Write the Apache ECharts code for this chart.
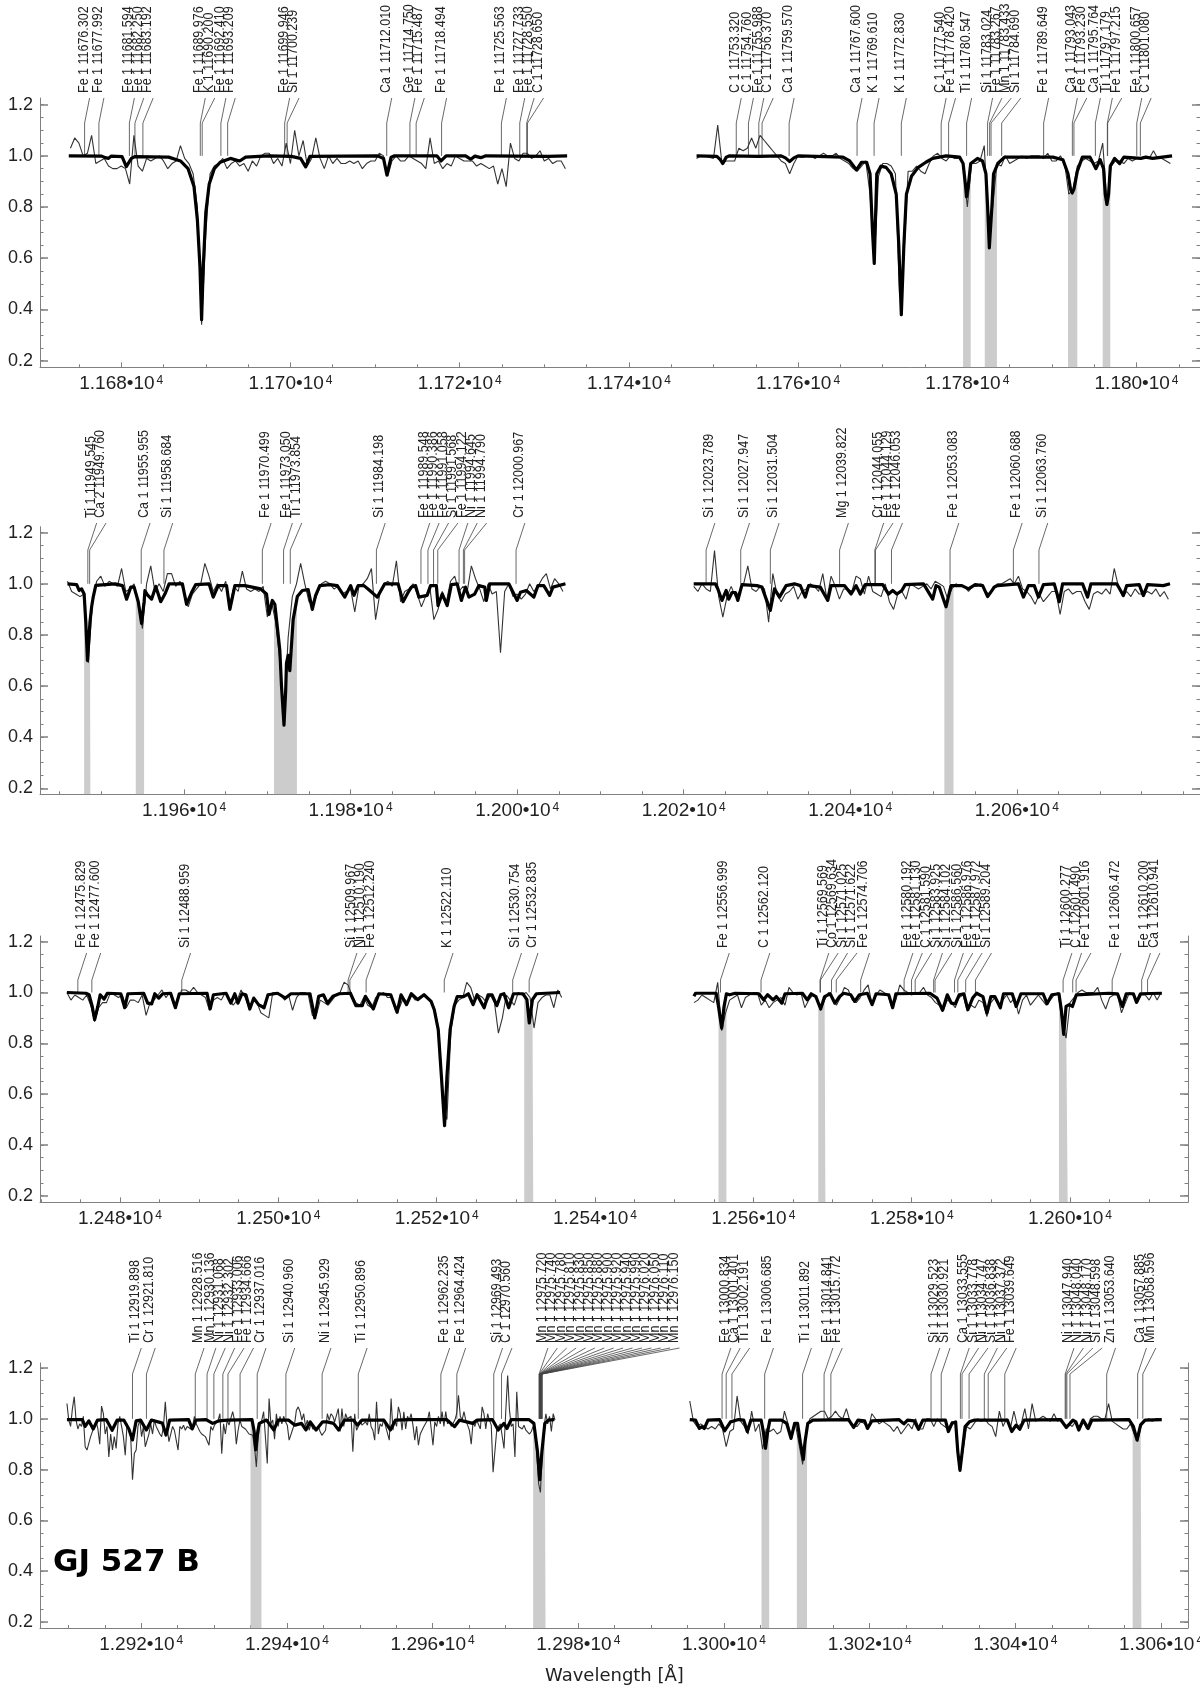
<!DOCTYPE html>
<html>
<head>
<meta charset="utf-8">
<title>GJ 527 B</title>
<script src="https://cdn.jsdelivr.net/npm/echarts@6/dist/echarts.min.js"></script>
<style>
  html, body { margin: 0; padding: 0; background: #fff; }
  #chart { width: 1200px; height: 1688px; }
</style>
</head>
<body>
<div id="chart"></div>
<script>
/* =========================================
   1. DATA
   ========================================= */
// observed spectra are listed on an even wavelength step from their start
const obsStep = 0.5;
const obsStepFine = 0.25;

const obsStart1a = 11674.0;
const obsFlux1a = [1.03,1.07,1.05,1.0,1.01,1.08,.97,.98,.99,.96,.95,.95,.96,.95,.89,1.08,.96,.94,.99,.98,.99,1.0,.98,.95,.97,.98,1.04,.99,.97,.93,.8,.34,.7,.93,.96,.97,.99,.95,.97,.98,.96,.97,.94,.98,.96,1.0,1.01,1.01,.97,.99,.96,1.05,.97,1.1,1.0,1.06,.96,.99,1.07,.99,.95,1.0,.97,.99,.97,.97,.98,.97,.98,.95,.97,.98,.98,1.01,1.0,.92,.98,1.0,.98,.98,1.0,.99,.98,.97,.95,1.07,.97,.98,.95,.97,.96,1.0,.99,.98,.98,.98,.96,.97,.96,.95,.96,.89,.95,.88,1.05,.99,.98,1.01,1.01,.99,1.0,1.02,.98,.99,.97,.98,.98,.95];
const obsStart1b = 11748.0;
const obsFlux1b = [.99,1.0,1.0,.995,.99,1.12,.97,.98,.98,.98,1.03,1.02,1.03,1.07,1.03,1.08,1.06,1.04,1.02,1.0,.98,.97,.93,.97,1.0,.995,1.0,1.0,.99,1.0,1.01,1.0,1.0,1.01,.99,.98,.97,.95,.94,.96,.98,.85,.58,.92,.97,.97,.96,.93,.45,.6,.94,.94,.96,.94,.93,.97,1.0,1.01,.99,.98,1.0,.99,.99,.97,.8,.97,.97,.98,1.04,.72,.8,.97,.96,1.0,.97,.98,.99,1.0,.99,1.0,1.0,1.0,.99,1.01,.98,.98,1.0,.97,.85,.87,.96,.98,.99,.98,.97,.98,1.05,.82,.96,.98,.98,.97,.99,.98,.99,.99,.99,.99,1.02,.99,.99,.98,.97];
const obsStart2a = 11946.0;
const obsFlux2a = [1.01,.97,.96,.95,.96,.69,.93,1.01,1.03,.99,1.01,1.0,.99,1.06,.97,.98,1.0,.92,.825,1.0,1.07,.97,1.0,.97,1.04,1.04,.99,1.01,.97,.91,.96,.98,1.0,1.08,1.03,.97,1.0,.97,1.01,.92,.99,.97,1.05,.98,.97,.98,.97,.99,.87,.93,.85,.7,.47,.79,.95,1.0,1.08,1.0,.93,.92,.96,1.0,1.01,1.0,.98,.99,.96,.97,.98,.89,.99,1.0,1.02,1.06,.86,.96,1.0,1.01,.99,1.09,.93,.97,.98,1.0,.96,.91,.95,.99,.86,.9,.97,.93,1.01,1.03,.97,.99,.97,1.07,1.02,.98,.93,1.0,.96,.97,.73,.97,1.0,.95,.96,.94,.96,1.0,.97,.99,1.02,1.04,.98,1.02,1.0,.97];
const obsStart2b = 12021.2;
const obsFlux2b = [.99,.97,1.0,.98,.97,1.13,.95,.87,.95,.99,.95,.97,1.0,1.07,.98,.97,.99,.98,.85,1.04,.96,.93,.96,.97,.99,.94,.97,.98,1.0,.99,.97,1.04,.94,1.03,.99,.94,.98,.98,.97,1.03,1.02,.96,1.03,.97,.96,.95,1.0,.93,.9,.96,.97,.94,1.0,.99,.98,.99,1.0,.98,1.01,1.0,.99,.94,.98,1.0,.99,.99,.97,.99,.99,1.0,.97,.96,.99,1.0,1.0,1.01,1.02,1.0,1.03,.98,.97,.95,.92,.96,.93,.95,.97,.97,.88,.97,.98,.96,.97,.97,.93,.9,.96,.97,.96,.98,.96,1.06,.99,.95,.97,.95,.98,.96,.96,.97,.96,.98,.95,.97,.94];
const obsStart3a = 12473.3;
const obsFlux3a = [1.0,.97,.99,.98,.97,.99,.95,.885,.94,.96,.96,1.0,.99,.98,.99,.94,.97,.97,.96,.99,.91,.96,.97,.99,1.01,.98,1.0,.95,.97,1.01,1.01,1.0,1.02,1.0,.99,.98,.93,.97,.98,.97,1.0,.97,.95,.97,1.01,.98,.94,.97,.96,.92,.91,.9,1.0,1.0,.99,.97,.99,.93,.98,1.0,1.0,.99,.91,.91,.97,.96,.95,.97,.99,1.0,1.04,1.03,.99,.96,.95,.98,.95,.94,.98,.99,1.0,.98,.98,.93,.94,.98,.96,.99,.97,.98,.99,.98,.96,.93,.84,.55,.5,.85,.95,.97,.98,1.04,1.02,.97,.99,.98,.96,.99,.96,.84,.9,.99,.97,.95,1.0,.99,1.0,.98,.86,.96,.98,.99,.99,.94,1.01,.98];
const obsStart3b = 12552.5;
const obsFlux3b = [.96,.97,.99,.98,.97,.96,1.04,.85,.92,.97,.98,.99,.94,.98,.99,1.0,1.0,.95,.97,.94,.96,.97,.98,.95,1.02,1.0,.99,1.0,.94,.97,.99,.98,.93,.97,1.0,.98,.95,.98,1.02,1.01,.97,.96,.98,1.01,1.03,.95,.99,1.01,1.0,.99,.94,.97,1.03,1.01,1.0,.99,1.0,1.0,1.02,.99,.98,.96,.95,.93,.97,.96,.94,.98,.99,.93,.95,.94,.97,.96,.905,.96,.98,.95,.97,.99,.96,.98,.915,.97,.99,.95,.97,.99,.97,.95,.97,.99,1.0,.88,.82,.96,.98,1.0,1.01,1.0,1.0,1.0,1.02,.97,.935,.98,.99,.99,.92,.96,1.0,.99,.96,.99,.99,.97,1.0,.97,1.0];
const obsStart4a = 12909.8;
const obsFlux4a = [1.06,.995,.97,1.04,1.087,.995,.96,.98,.97,1.01,.89,.877,.87,.93,.935,.97,.99,.96,.9,1.05,1.02,.94,.97,.85,.94,.877,.93,.883,.98,1.01,.97,.93,.857,.98,.955,.93,.76,.863,.877,.97,.995,.93,.97,.89,.89,.94,.98,.94,.995,.97,.955,.94,.93,.97,1.067,.97,.91,.94,.97,.955,.955,.877,.97,.96,.975,.955,.97,.975,.96,.97,1.01,.98,.98,.95,.94,.935,.93,.935,.896,.97,.955,.975,.97,.995,1.02,.863,.98,.94,.995,.975,.98,1.028,.995,.9,.955,.995,.97,.975,.96,.95,.94,.94,.935,.89,.81,.93,.98,.995,1.028,1.034,.824,1.08,.98,.995,.92,1.02,.97,1.01,.98,1.01,.988,.975,.916,.91,.96,.98,1.034,1.047,1.028,.995,1.02,.97,.995,.955,
  .98,.96,.955,.96,.97,.95,.935,.93,.955,1.02,.995,1.02,1.01,.988,.988,1.04,.95,1.04,.97,1.02,1.0,.995,1.01,.87,1.02,.955,.97,.995,.975,.97,.988,.975,1.02,.97,.955,.916,1.067,.94,.98,.97,1.0,.97,.97,.916,1.08,.955,.995,.97,1.047,1.02,.955,1.028,.96,1.01,.995,1.02,.975,.916,.97,.896,.94,.955,.97,.975,.995,1.028,1.034,.896,.988,.97,1.01,.98,1.028,.97,1.028,.98,.995,.97,.975,.995,1.02,1.093,1.01,.995,1.028,.995,.975,.955,.9,.988,.97,.995,.988,.96,1.047,1.02,.96,1.02,.995,.975,.79,.79,.955,.97,.98,.975,.883,1.034,1.17,1.034,.97,.98,.85,1.106,.97,.975,.96,.975,.955,.955,.94,.95,.97,.955,.863,.745,.71,.863,.97,1.02,.98,1.01,.95,1.02,.995];
const obsStart4b = 12995.3;
const obsFlux4b = [1.07,.99,.97,.98,.97,.96,.97,.96,.98,.96,.89,.95,.96,1.09,.99,.97,.94,1.03,.95,.98,.88,.96,.95,.96,.94,.95,1.03,.98,.93,.98,.9,.82,.96,1.0,1.01,1.02,1.03,1.03,1.0,1.01,1.03,1.01,1.0,1.04,.99,.97,.97,.99,.98,.96,1.02,1.0,.98,.99,.98,.97,.95,.97,.94,.96,.98,.96,1.0,.96,.96,1.0,1.0,.97,1.0,.98,.97,.96,.99,.98,.8,.87,.97,.96,.98,1.0,.99,1.0,.98,.97,.93,1.03,.97,1.0,.96,1.03,.97,.98,1.04,.96,1.06,.99,1.0,1.01,1.0,.99,1.02,.99,1.0,.97,.98,.97,.99,.96,.99,.96,1.0,1.01,1.01,1.0,1.0,1.06,.99,.98,.97,.96,.96,.98,.94,.91,.98,.99,1.0,.99,1.0,1.0];

// model spectra as [wavelength, flux]
const model1a = [[11673.8,1],[11677.7,.999],[11678.1,.993],[11678.5,.99],[11678.8,.999],[11680.1,.997],[11680.6,.958],[11681.2,.99],[11681.6,.997],[11685.6,.995],[11687,.98],[11687.9,.95],[11688.6,.88],[11689,.75],[11689.3,.57],[11689.5,.36],[11689.7,.57],[11690,.78],[11690.4,.89],[11691,.95],[11691.7,.975],[11692.9,.99],[11694,.98],[11694.7,.995],[11697.4,1],[11700.1,.998],[11701.2,.99],[11701.8,.957],[11702.3,.998],[11710.3,1],[11711,.99],[11711.4,.925],[11711.9,.995],[11712.3,1],[11717.3,1],[11717.8,.98],[11718.4,1],[11720.7,1],[11721.3,.987],[11721.8,.999],[11722.5,.993],[11723.1,1],[11730.4,.998],[11732.7,1]];
const model1b = [[11748,1],[11750.4,.998],[11750.8,.985],[11751.1,.97],[11751.5,.995],[11751.9,1],[11755.3,.998],[11758,1],[11758.5,.992],[11759,.978],[11759.5,.992],[11760,1],[11765.3,.995],[11766.1,.98],[11766.9,.945],[11767.5,.975],[11768.1,.975],[11768.5,.93],[11768.8,.7],[11769,.58],[11769.1,.7],[11769.3,.93],[11769.8,.96],[11770.4,.955],[11771,.93],[11771.6,.85],[11771.9,.65],[11772.2,.38],[11772.5,.65],[11772.8,.85],[11773.4,.92],[11774.2,.955],[11775.1,.975],[11775.9,.99],[11777.5,1],[11779.1,.995],[11779.5,.97],[11779.8,.88],[11779.9,.84],[11780.1,.88],[11780.4,.97],[11781.2,.99],[11781.8,.98],[11782.2,.93],[11782.4,.8],[11782.6,.64],[11782.9,.8],[11783.1,.93],[11783.6,.97],[11784.4,.995],[11790.1,.995],[11791.3,.985],[11791.9,.93],[11792.2,.87],[11792.4,.855],[11792.6,.87],[11793,.94],[11793.6,.995],[11794.5,.995],[11795.2,.95],[11795.7,.985],[11796.1,.95],[11796.3,.85],[11796.5,.81],[11796.7,.85],[11796.9,.96],[11797.4,.99],[11798,.97],[11798.5,.995],[11800.5,.99],[11801.1,.995],[11801.9,.99],[11804.2,1]];
const model2a = [[11946,1],[11947.1,.997],[11947.4,.974],[11947.7,.98],[11948,.96],[11948.2,.85],[11948.4,.7],[11948.7,.85],[11948.9,.91],[11949.1,.95],[11949.4,.994],[11951.7,1],[11952.6,.993],[11953.1,.94],[11953.6,.987],[11954,.987],[11954.5,.93],[11954.9,.845],[11955.2,.93],[11955.3,.973],[11955.6,.957],[11956.1,.94],[11956.6,.99],[11957.2,.93],[11957.7,.96],[11958.2,1],[11959.8,1],[11960.3,.92],[11960.9,.966],[11961.4,.997],[11963,1],[11963.5,.948],[11964.1,.993],[11965.1,.993],[11965.5,.9],[11966.1,.993],[11967.3,.993],[11969.2,.98],[11969.9,.96],[11970.2,.88],[11970.6,.935],[11970.9,.92],[11971.5,.74],[11971.7,.6],[11972,.447],[11972.2,.58],[11972.3,.69],[11972.5,.72],[11972.7,.66],[11973.1,.86],[11973.6,.95],[11974.2,.974],[11974.9,.977],[11975.4,.9],[11975.8,.955],[11976.3,.993],[11977.5,.997],[11978.4,.993],[11979.3,.948],[11980,.993],[11980.4,.955],[11980.9,.993],[11981.6,.993],[11982.3,.974],[11983.2,.948],[11984.1,1],[11985.7,1],[11986.3,.93],[11986.9,.966],[11987.3,.987],[11987.8,.993],[11988.2,.948],[11989.2,.955],[11989.6,.993],[11990.3,.993],[11990.5,.915],[11991,.96],[11991.6,.915],[11992.1,.997],[11992.8,1],[11993.3,.935],[11993.8,.987],[11994.2,.948],[11994.9,.96],[11995.4,.993],[11996.1,.987],[11996.3,.935],[11996.7,1],[11999,1],[11999.4,.974],[12000,.935],[12000.4,.967],[12001.1,.974],[12002,.948],[12002.5,.993],[12003.2,.993],[12003.9,.955],[12004.3,.987],[12005.8,1]];
const model2b = [[12021.2,1],[12023.8,1],[12024.1,.98],[12024.6,.935],[12025.1,.974],[12025.4,.94],[12025.8,.966],[12026.2,.966],[12026.5,.935],[12027,.997],[12028.8,.993],[12029.4,.987],[12029.8,.95],[12030.4,.896],[12030.9,.98],[12031.5,.948],[12032.3,.993],[12033.3,1],[12034,.993],[12034.6,.948],[12035,.993],[12036.4,.987],[12037.3,.935],[12037.7,.993],[12039.3,.993],[12040.1,.96],[12040.7,.993],[12041.2,.96],[12041.8,.997],[12043.9,.997],[12044.6,.96],[12045.1,.974],[12045.6,.96],[12046.2,.974],[12046.6,.997],[12048.8,1],[12049.9,.94],[12050.3,.993],[12050.7,.987],[12051.5,.91],[12052.1,.993],[12053.4,.993],[12054.2,.98],[12055,.997],[12055.9,.993],[12056.5,.95],[12057.3,.987],[12057.7,.993],[12060.2,1],[12060.8,.948],[12061.4,.993],[12062.1,.993],[12062.6,.948],[12063.2,.997],[12064.5,1],[12065.1,.93],[12065.5,1],[12067.9,1],[12068.5,.948],[12068.9,1],[12072,1],[12072.8,.954],[12073.2,.993],[12074.7,.997],[12075.2,.954],[12075.7,.997],[12077.6,.993],[12078.4,1]];
const model3a = [[12473.3,1],[12475.7,.997],[12476.1,.991],[12476.5,.945],[12476.8,.893],[12477.2,.945],[12477.5,.991],[12478,.974],[12478.4,.997],[12480.1,.995],[12480.6,.94],[12481,.995],[12483,.997],[12483.5,.958],[12484,.955],[12484.4,.995],[12484.9,.978],[12485.4,.995],[12486.4,.997],[12487,.94],[12487.5,.995],[12491,.997],[12491.4,.935],[12491.8,.991],[12493.4,.997],[12494,.958],[12494.5,.995],[12494.9,.958],[12495.4,.995],[12495.9,.991],[12496.4,.935],[12496.9,.978],[12497.5,.952],[12498.2,.94],[12498.7,.991],[12499.9,.997],[12500.9,.978],[12501.6,.995],[12504,.995],[12504.6,.9],[12505.1,.985],[12505.7,.991],[12506.2,.958],[12506.9,.985],[12507.7,.995],[12509.1,.997],[12509.8,.948],[12510.6,.948],[12511,.985],[12512,.935],[12512.7,.995],[12514.2,.991],[12515,.922],[12515.5,.991],[12516.2,.952],[12516.8,.995],[12517.6,.972],[12518.4,.991],[12519.3,.965],[12519.7,.932],[12520.2,.854],[12520.6,.67],[12521,.476],[12521.3,.67],[12521.7,.854],[12522.2,.945],[12522.6,.984],[12523.4,.984],[12524,.995],[12524.6,.952],[12525.1,.991],[12526,.94],[12526.5,.991],[12527,.991],[12527.6,.948],[12528.1,.991],[12528.5,.995],[12529.1,.94],[12529.7,.995],[12530.9,.995],[12531.4,.972],[12531.7,.88],[12532.1,.972],[12532.6,.995],[12535.6,1]];
const model3b = [[12552.5,.985],[12552.7,.997],[12555.3,.997],[12555.6,.945],[12556,.86],[12556.3,.945],[12556.6,.995],[12557,.991],[12557.7,.997],[12560.7,.995],[12561.3,.971],[12561.8,.991],[12562.5,.971],[12562.9,.984],[12563.6,.958],[12564,.995],[12566.2,.997],[12566.8,.971],[12567.3,.995],[12567.9,.984],[12568.5,.935],[12569,.984],[12569.7,.995],[12570.3,.958],[12570.9,.984],[12571.4,.997],[12572.3,.991],[12572.8,.965],[12573.4,.991],[12574.4,.997],[12575,.952],[12575.5,.995],[12577.1,.991],[12577.6,.94],[12578,.995],[12582.3,.997],[12583.2,.978],[12583.9,.93],[12584.5,.991],[12585,.958],[12585.5,.955],[12586,.991],[12586.6,.995],[12587.1,.932],[12587.7,.978],[12588.2,.997],[12589,.984],[12589.5,.92],[12590,.984],[12590.5,.984],[12591.2,.94],[12591.6,.995],[12592.7,.995],[12593.2,.945],[12593.8,.995],[12596.6,.995],[12597.1,.956],[12597.7,.991],[12598.6,.995],[12598.9,.932],[12599.2,.835],[12599.5,.945],[12599.9,.952],[12600.3,.945],[12600.8,.991],[12604.9,.997],[12606,.995],[12606.6,.945],[12607.1,.995],[12608,.995],[12608.4,.961],[12608.9,.995],[12611.6,.997]];
const model4a = [[12909.8,.997],[12911.9,.997],[12912.3,.97],[12912.8,.992],[12913.4,.96],[12914,.995],[12915.2,.997],[12916,.955],[12916.7,.995],[12917.6,.995],[12918.3,.96],[12918.8,.917],[12919.3,.992],[12919.9,.995],[12920.7,.956],[12921.4,.995],[12922.9,.983],[12923.4,.936],[12923.9,.995],[12926.5,.997],[12927,.96],[12927.5,.995],[12928.9,.997],[12929.8,.982],[12930.7,.992],[12931.8,.995],[12935.2,.997],[12935.5,.95],[12935.7,.878],[12936,.95],[12936.2,.982],[12937.2,.995],[12938.2,.956],[12938.8,.995],[12940.2,.995],[12941.1,.975],[12942,.982],[12942.6,.956],[12943.2,.988],[12944,.956],[12944.9,.988],[12945.5,.988],[12946.4,.982],[12947.1,.956],[12947.9,.995],[12949.1,.995],[12949.7,.975],[12950.3,.995],[12953.3,.995],[12954.2,.956],[12954.9,.995],[12956.8,.997],[12961.9,.997],[12963,.969],[12963.7,.995],[12965.5,.982],[12966.1,.995],[12968.2,.997],[12969,.956],[12969.8,.982],[12970.2,.962],[12970.8,.997],[12973.2,.997],[12973.9,.982],[12974.4,.87],[12974.7,.76],[12975,.87],[12975.4,.982],[12975.9,.995],[12976.7,.997]];
const model4b = [[12995.3,.997],[12996.1,.995],[12996.6,.962],[12997,.969],[12997.3,.962],[12997.8,.995],[12999.4,.997],[13000.1,.953],[13000.9,.988],[13002,.997],[13002.7,.995],[13003.2,.95],[13003.7,.995],[13005.1,.995],[13005.4,.95],[13005.7,.884],[13006,.95],[13006.3,.995],[13007.9,.995],[13008.6,.982],[13009.2,.923],[13009.7,.982],[13010.1,.982],[13010.5,.905],[13010.9,.84],[13011.1,.905],[13011.5,.982],[13012.2,.995],[13017.1,.997],[13017.8,.966],[13018.4,.995],[13019.3,.992],[13019.7,.962],[13020.3,.992],[13024,.997],[13024.7,.98],[13025.2,.995],[13026.1,.992],[13026.7,.959],[13027.3,.995],[13030.4,.995],[13030.8,.95],[13031.3,.982],[13031.8,.988],[13032.1,.87],[13032.4,.797],[13032.7,.87],[13033.1,.969],[13033.7,.988],[13034.4,.995],[13038.9,.995],[13039.5,.95],[13040.1,.975],[13040.6,.959],[13041.2,.995],[13046.2,.997],[13047,.966],[13047.9,.995],[13048.3,.988],[13048.7,.956],[13049.3,.995],[13050,.962],[13050.5,.995],[13055.6,.997],[13056.2,.97],[13056.7,.917],[13057.2,.976],[13057.8,.995],[13060.1,.997]];

// grey windows [from, to] in wavelength
const bands1 = [[11779.5,11780.4],[11782.06,11783.5],[11791.9,11793.0],[11796.0,11796.9]];
const bands2 = [[11948.0,11948.75],[11954.2,11955.2],[11970.8,11973.55],[12051.3,12052.4]];
const bands3 = [[12531.06,12532.2],[12555.6,12556.6],[12568.2,12569.1],[12598.6,12599.7]];
const bands4 = [[12935.0,12936.5],[12973.8,12975.5],[13005.15,13006.2],[13010.0,13011.4],[13056.1,13057.3]];

// line identifications
const lines1 = ["Fe 1 11676.302","Fe 1 11677.992","Fe 1 11681.594","Fe 1 11682.250","Fe 1 11683.192","Fe 1 11689.976","K 1 11690.200","Fe 1 11692.410","Fe 1 11693.209","Fe 1 11699.946","Si 1 11700.239","Ca 1 11712.010","Ge 1 11714.750","Fe 1 11715.487","Fe 1 11718.494","Fe 1 11725.563","Fe 1 11727.733","Fe 1 11728.550","C 1 11728.650","C 1 11753.320","C 1 11754.760","Fe 1 11755.988","C 1 11756.370","Ca 1 11759.570","Ca 1 11767.600","K 1 11769.610","K 1 11772.830","C 1 11777.540","Fe 1 11778.420","Ti 1 11780.547","Si 1 11783.024","Fe 1 11783.267","Mn 1 11783.433","Si 1 11784.690","Fe 1 11789.649","Ca 1 11793.043","Fe 1 11793.230","Ca 1 11795.764","Ti 1 11797.179","Fe 1 11797.215","Fe 1 11800.657","C 1 11801.080"];
const lines2 = ["Ti 1 11949.545","Ca 2 11949.760","Ca 1 11955.955","Si 1 11958.684","Fe 1 11970.499","Fe 1 11973.050","Ti 1 11973.854","Si 1 11984.198","Fe 1 11989.548","Fe 1 11990.386","Fe 1 11991.058","Si 1 11991.568","Fe 1 11994.122","Ni 1 11994.645","Ni 1 11994.790","Cr 1 12000.967","Si 1 12023.789","Si 1 12027.947","Si 1 12031.504","Mg 1 12039.822","Cr 1 12044.055","Fe 1 12044.129","Fe 1 12046.053","Fe 1 12053.083","Fe 1 12060.688","Si 1 12063.760"];
const lines3 = ["Fe 1 12475.829","Fe 1 12477.600","Si 1 12488.959","Si 1 12509.967","Ni 1 12510.190","Fe 1 12512.240","K 1 12522.110","Si 1 12530.754","Cr 1 12532.835","Fe 1 12556.999","C 1 12562.120","Ti 1 12569.569","Co 1 12569.634","Si 1 12571.025","Si 1 12571.622","Fe 1 12574.706","Fe 1 12580.192","Fe 1 12581.130","C 1 12581.590","Si 1 12583.925","Si 1 12584.102","Si 1 12586.560","Fe 1 12586.976","Fe 1 12587.972","Si 1 12589.204","Ti 1 12600.277","C 1 12601.490","Fe 1 12601.916","Fe 1 12606.472","Fe 1 12610.200","Ca 1 12610.941"];
const lines4 = ["Ti 1 12919.898","Cr 1 12921.810","Mn 1 12928.516","Mn 1 12930.136","Ni 1 12931.068","Ni 1 12932.302","Fe 1 12933.006","Fe 1 12934.666","Cr 1 12937.016","Si 1 12940.960","Ni 1 12945.929","Ti 1 12950.896","Fe 1 12962.235","Fe 1 12964.424","Si 1 12969.493","C 1 12970.560","Mn 1 12975.720","Mn 1 12975.740","Mn 1 12975.780","Mn 1 12975.810","Mn 1 12975.830","Mn 1 12975.850","Mn 1 12975.880","Mn 1 12975.900","Mn 1 12975.920","Mn 1 12975.940","Mn 1 12975.990","Mn 1 12976.020","Mn 1 12976.050","Mn 1 12976.110","Mn 1 12976.150","Fe 1 13000.834","Ca 1 13001.401","Ti 1 13002.191","Fe 1 13006.685","Ti 1 13011.892","Fe 1 13014.841","Fe 1 13015.772","Si 1 13029.523","Si 1 13030.921","Ca 1 13033.555","Si 1 13033.778","Ni 1 13034.747","Si 1 13036.838","Ni 1 13037.372","Fe 1 13039.649","Ni 1 13047.940","Ni 1 13048.040","Ni 1 13048.170","Si 1 13048.598","Zn 1 13053.640","Ca 1 13057.885","Mn 1 13058.596"];

// axis ticks
const xTicks1 = [11680,11700,11720,11740,11760,11780,11800];
const xTicks2 = [11960,11980,12000,12020,12040,12060];
const xTicks3 = [12480,12500,12520,12540,12560,12580,12600];
const xTicks4 = [12920,12940,12960,12980,13000,13020,13040,13060];
const yTicks = [0.2,0.4,0.6,0.8,1.0,1.2];

/* =========================================
   2. PANEL LAYOUT
   ========================================= */
const panels = [
  { top: 98, bottom: 367.3, right: 1200, xMin: 11670.4, xMax: 11807.5, yMin: 0.174, yMax: 1.226,
    shift: -0.63, lean: 5, textY: 93, leadTop: 98, leadKink: 123,
    xTicks: xTicks1, lines: lines1, bands: bands1,
    segs: [[obsStart1a, obsFlux1a, model1a, obsStep], [obsStart1b, obsFlux1b, model1b, obsStep]] },
  { top: 526.7, bottom: 794.3, right: 1200, xMin: 11942.7, xMax: 12082, yMin: 0.1765, yMax: 1.2235,
    shift: -1.1, lean: 8.8, textY: 518, leadTop: 523, leadKink: 550,
    xTicks: xTicks2, lines: lines2, bands: bands2,
    segs: [[obsStart2a, obsFlux2a, model2a, obsStep], [obsStart2b, obsFlux2b, model2b, obsStep]] },
  { top: 936, bottom: 1202.3, right: 1188, xMin: 12469.9, xMax: 12614.9, yMin: 0.174, yMax: 1.2224,
    shift: -1.15, lean: 8.8, textY: 948, leadTop: 953, leadKink: 980,
    xTicks: xTicks3, lines: lines3, bands: bands3,
    segs: [[obsStart3a, obsFlux3a, model3a, obsStep], [obsStart3b, obsFlux3b, model3b, obsStep]] },
  { top: 1363, bottom: 1628, right: 1188, xMin: 12906.1, xMax: 13063.7, yMin: 0.1764, yMax: 1.2197,
    shift: -1.1, lean: 8.8, textY: 1343, leadTop: 1348, leadKink: 1374,
    xTicks: xTicks4, lines: lines4, bands: bands4,
    segs: [[obsStart4a, obsFlux4a, model4a, obsStepFine], [obsStart4b, obsFlux4b, model4b, obsStep]] },
];

const AXIS_COLOR = "#808080";
const LABEL_FONT = "Liberation Sans";

/* =========================================
   3. HELPERS
   ========================================= */
// every 5 A between the axis ends
function minorXTicks(panel) {
  const out = [];
  for (let v = Math.ceil(panel.xMin / 5) * 5; v <= panel.xMax; v += 5) out.push(v);
  return out;
}

function minorYTicks() {
  const out = [];
  for (let i = 4; i <= 24; i++) out.push(i * 0.05);
  return out;
}

// model points that fall inside a window, closed off at both edges
function bandPoints(model, band) {
  const nearest = (w) => model.reduce((a, b) => (Math.abs(b[0] - w) < Math.abs(a[0] - w) ? b : a))[1];
  const inside = model.filter((p) => p[0] > band[0] && p[0] < band[1]);
  return [[band[0], nearest(band[0])], ...inside, [band[1], nearest(band[1])]];
}

function tickLabel(value) {
  return "{a|" + (value / 10000).toFixed(3) + "\u202210}{b|4}";
}

// leaders and rotated labels for one panel, spread so the labels keep apart
function renderLines(panel) {
  return function (params, api) {
    const children = [];
    const y1 = api.coord([panel.xMin, 1.0])[1];
    let lastTop = -Infinity;
    panel.lines.forEach((label) => {
      const wave = parseFloat(label.split(" ").pop());
      const x = api.coord([wave + panel.shift, 1.0])[0];
      const topX = Math.max(x + panel.lean, lastTop + 9.4);
      lastTop = topX;
      children.push({
        type: "polyline",
        shape: { points: [[topX, panel.leadTop], [x, panel.leadKink], [x, y1]] },
        style: { stroke: "#444444", lineWidth: 0.8, fill: null },
      });
      children.push({
        type: "text",
        x: topX + 1.5,
        y: panel.textY,
        rotation: Math.PI / 2,
        scaleX: 1,
        scaleY: 1.15,
        style: {
          text: label,
          x: 0,
          y: 0,
          align: "left",
          verticalAlign: "bottom",
          fill: "#222",
          fontFamily: LABEL_FONT,
          fontSize: 12.5,
        },
      });
    });
    return { type: "group", children: children };
  };
}

/* =========================================
   4. OPTION
   ========================================= */
function buildOption() {
  const grid = [];
  const xAxis = [];
  const yAxis = [];
  const series = [];

  panels.forEach((panel, p) => {
    grid.push({
      left: 40,
      top: panel.top,
      width: panel.right - 40,
      height: panel.bottom - panel.top,
      outerBoundsMode: "none",
    });

    const xCommon = { type: "value", gridIndex: p, min: panel.xMin, max: panel.xMax, splitLine: { show: false } };
    xAxis.push({
      ...xCommon,
      position: "bottom",
      axisLine: { onZero: false, lineStyle: { color: AXIS_COLOR, width: 1 } },
      axisTick: { inside: true, length: 5, customValues: panel.xTicks, lineStyle: { color: AXIS_COLOR } },
      axisLabel: {
        customValues: panel.xTicks,
        margin: 7,
        formatter: tickLabel,
        hideOverlap: false,
        rich: {
          a: { fontFamily: LABEL_FONT, fontSize: 19, color: "#222" },
          b: { fontFamily: LABEL_FONT, fontSize: 12, color: "#222", verticalAlign: "top", padding: [0, 0, 7, 2] },
        },
      },
    });
    xAxis.push({
      ...xCommon,
      position: "bottom",
      axisLine: { show: false },
      axisLabel: { show: false },
      axisTick: { inside: true, length: 3, customValues: minorXTicks(panel), lineStyle: { color: AXIS_COLOR } },
    });

    const yCommon = { type: "value", gridIndex: p, min: panel.yMin, max: panel.yMax, splitLine: { show: false } };
    ["left", "right"].forEach((side) => {
      yAxis.push({
        ...yCommon,
        position: side,
        axisLine: { show: true, onZero: false, lineStyle: { color: AXIS_COLOR, width: 1 } },
        axisTick: { inside: true, length: 8, customValues: yTicks, lineStyle: { color: AXIS_COLOR, width: 1.5 } },
        axisLabel: side === "left"
          ? { customValues: yTicks, margin: 7, fontFamily: LABEL_FONT, fontSize: 18, color: "#222",
              formatter: (v) => v.toFixed(1) }
          : { show: false },
      });
      yAxis.push({
        ...yCommon,
        position: side,
        axisLine: { show: false },
        axisLabel: { show: false },
        axisTick: { inside: true, length: 3.5, customValues: minorYTicks(), lineStyle: { color: AXIS_COLOR } },
      });
    });

    const onAxes = { xAxisIndex: p * 2, yAxisIndex: p * 4 };

    // grey windows sit under everything else
    panel.bands.forEach((band) => {
      const model = panel.segs.find((s) => band[0] >= s[2][0][0] && band[1] <= s[2][s[2].length - 1][0])[2];
      series.push({
        ...onAxes,
        type: "line",
        symbol: "none",
        silent: true,
        z: 1,
        lineStyle: { width: 0 },
        areaStyle: { color: "#cccccc", opacity: 1, origin: "start" },
        data: bandPoints(model, band),
      });
    });

    series.push({
      ...onAxes,
      type: "custom",
      silent: true,
      z: 2,
      clip: false,
      renderItem: renderLines(panel),
      data: [[panel.xMin, 1]],
    });

    panel.segs.forEach((seg) => {
      series.push({
        ...onAxes,
        type: "line",
        symbol: "none",
        silent: true,
        z: 3,
        lineStyle: { color: "#333333", width: 1.1 },
        data: seg[1].map((f, i) => [seg[0] + i * seg[3], f]),
      });
      series.push({
        ...onAxes,
        type: "line",
        symbol: "none",
        silent: true,
        z: 4,
        lineStyle: { color: "#000000", width: 3.2, join: "round" },
        data: seg[2],
      });
    });
  });

  return {
    animation: false,
    backgroundColor: "#ffffff",
    grid: grid,
    xAxis: xAxis,
    yAxis: yAxis,
    series: series,
    graphic: [
      { type: "text", left: 53, top: 1547, z: 10, silent: true,
        style: { text: "GJ 527 B", font: 'bold 31px "DejaVu Sans"', fill: "#000" } },
      { type: "text", left: 545, top: 1667, z: 10, silent: true,
        style: { text: "Wavelength [\u00c5]", font: '18px "DejaVu Sans"', fill: "#222" } },
    ],
  };
}

/* =========================================
   5. MAIN INITIALIZATION
   ========================================= */
document.addEventListener("DOMContentLoaded", () => {
  const chart = echarts.init(document.getElementById("chart"), null, { renderer: "canvas" });
  chart.setOption(buildOption());
});
</script>
</body>
</html>
